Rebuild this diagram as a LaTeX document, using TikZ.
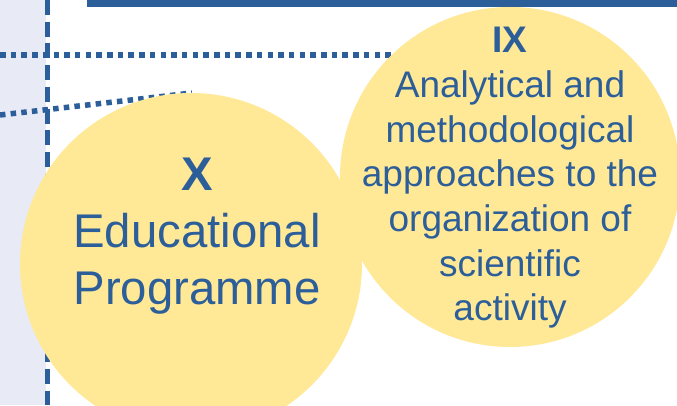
\documentclass[tikz,border=0pt]{standalone}
\usepackage{fontspec}
\setmainfont{Liberation Sans}
\usepackage{xcolor}
\definecolor{baseblue}{RGB}{44,94,154}
\definecolor{bubbleyellow}{RGB}{255,232,150}
\definecolor{striplilac}{RGB}{232,234,245}

\begin{document}
\begin{tikzpicture}[
    x=1pt, y=-1pt,
    bubble/.style={circle, fill=bubbleyellow, draw=none, inner sep=0pt},
    bubbletext/.style={text=baseblue, align=center, inner sep=0pt},
    dotline/.style={baseblue, line width=5.5pt, dash pattern=on 5.5pt off 5.2pt},
    dashline/.style={baseblue, line width=5pt, dash pattern=on 15pt off 6.7pt}
]
\useasboundingbox (0,0) rectangle (677,405);

% Side strip and its border
\fill[striplilac] (0,0) rectangle (46,405);
\draw[dashline] (47.5,0) -- (47.5,405);

% Dotted guide lines
\draw[dotline] (0,55) -- (392,55);
\draw[dotline] (0,115) -- (192,93);

% Bubbles
\node[bubble, minimum size=340pt] (research) at (510,177) {};
\node[bubble, minimum size=342pt] (education) at (191,264) {};

% Bubble labels
\node[bubbletext, font=\fontsize{37}{44.7}\selectfont] (researchlabel) at (510,178)
    {\textbf{IX}\\Analytical and\\methodological\\approaches to the\\organization of\\scientific\\activity};
\node[bubbletext, font=\fontsize{47.3}{57}\selectfont] (educationlabel) at (197,236)
    {\textbf{X}\\Educational\\Programme};

% Header bar
\fill[baseblue] (87,0) rectangle (677,7);

\end{tikzpicture}
\end{document}
